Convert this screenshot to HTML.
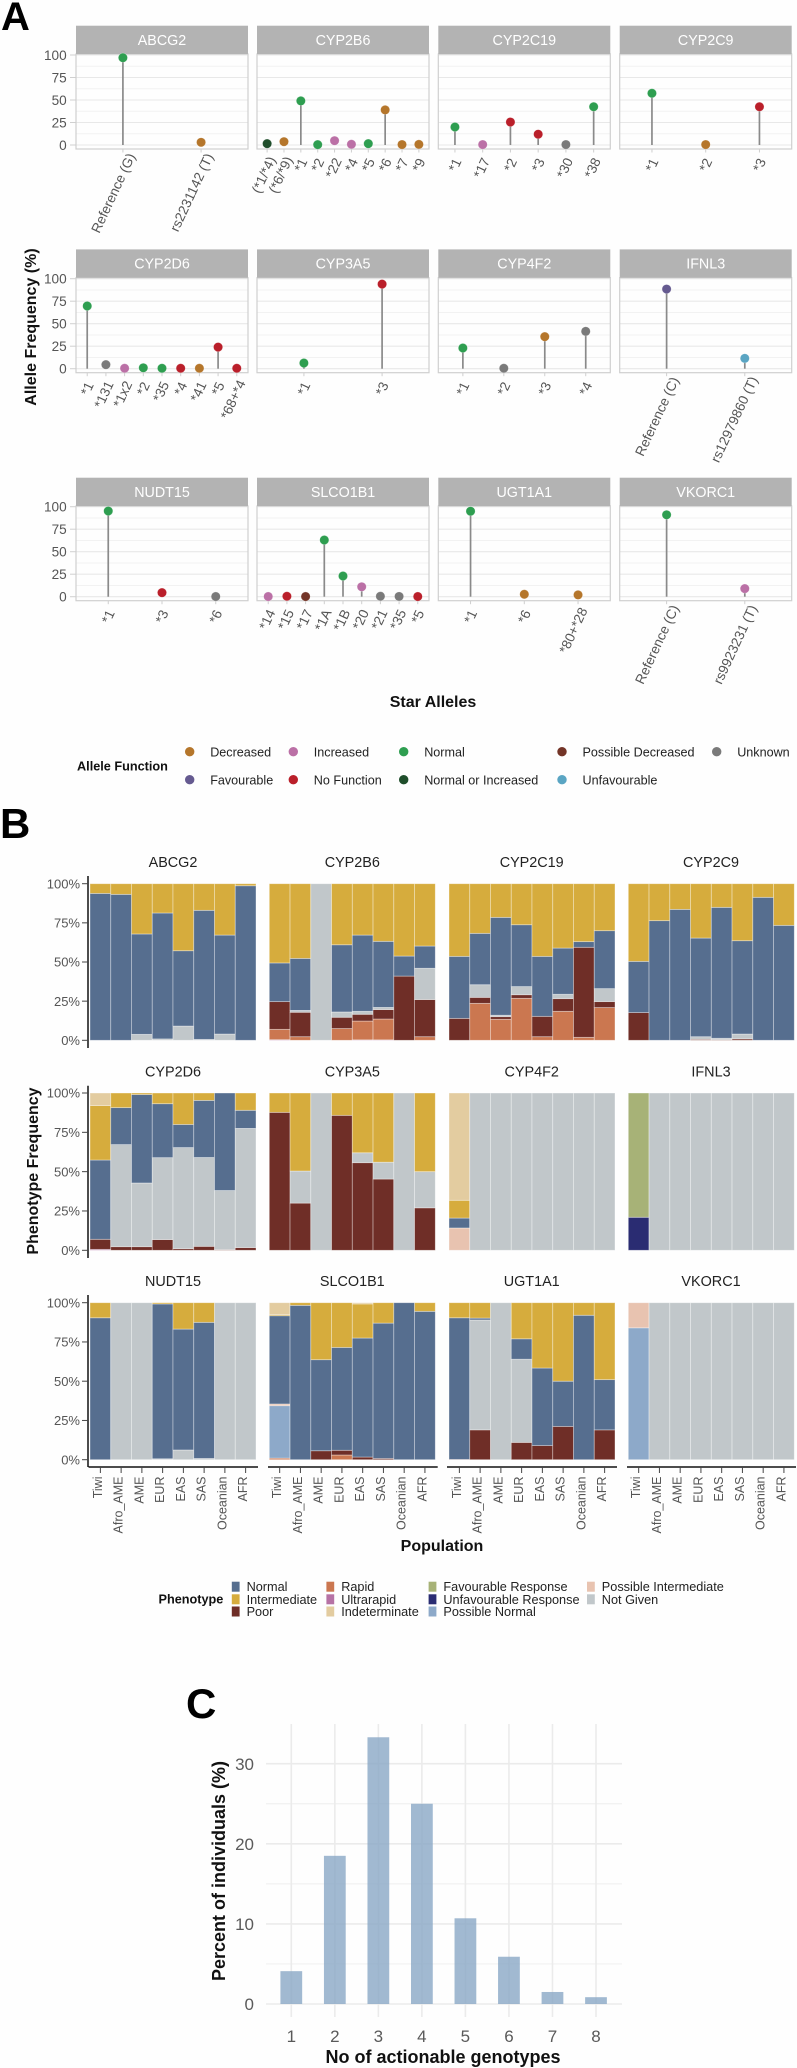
<!DOCTYPE html>
<html lang="en">
<head>
<meta charset="utf-8">
<title>Pharmacogenomic allele and phenotype frequencies</title>
<style>
html,body{margin:0;padding:0;background:#fefefe;}
svg{display:block;font-family:"Liberation Sans",Arial,sans-serif;}
</style>
</head>
<body>
<svg id="fig" xmlns="http://www.w3.org/2000/svg" width="797" height="2068" viewBox="0 0 797 2068">
<rect x="0" y="0" width="797" height="2068" fill="#fefefe"/>
<text x="1" y="30" font-size="40" font-weight="700" fill="#000">A</text>
<text x="0" y="838" font-size="42" font-weight="700" fill="#000">B</text>
<text x="186" y="1718" font-size="42" font-weight="700" fill="#000">C</text>
<text transform="translate(36,327) rotate(-90)" text-anchor="middle" font-size="16" font-weight="700" fill="#111">Allele Frequency (%)</text>
<text x="433" y="707" text-anchor="middle" font-size="16" font-weight="700" fill="#111">Star Alleles</text>
<text x="77" y="770.5" font-size="12.7" font-weight="700" fill="#111">Allele Function</text>
<text transform="translate(38,1171) rotate(-90)" text-anchor="middle" font-size="16" font-weight="700" fill="#111">Phenotype Frequency</text>
<text x="442" y="1551" text-anchor="middle" font-size="16" font-weight="700" fill="#111">Population</text>
<text x="158.5" y="1603.5" font-size="12.7" font-weight="700" fill="#111">Phenotype</text>
<text transform="translate(225,1871) rotate(-90)" text-anchor="middle" font-size="18" font-weight="700" fill="#111">Percent of individuals (%)</text>
<text x="443" y="2063" text-anchor="middle" font-size="18" font-weight="700" fill="#111">No of actionable genotypes</text>
</svg>
<script>
// ---------- Panel A data ----------
const geneNames = ["ABCG2","CYP2B6","CYP2C19","CYP2C9","CYP2D6","CYP3A5","CYP4F2","IFNL3","NUDT15","SLCO1B1","UGT1A1","VKORC1"];
const alleleTicks = [0,25,50,75,100];
const allelesABCG2 = ["Reference (G)","rs2231142 (T)"];
const freqABCG2 = [97,3];
const funcABCG2 = ["N","D"];
const allelesCYP2B6 = ["(*1/*4)","(*6/*9)","*1","*2","*22","*4","*5","*6","*7","*9"];
const freqCYP2B6 = [1.5,3.7,49,0.4,4.8,0.8,1.5,39,0.5,0.7];
const funcCYP2B6 = ["NI","D","N","N","I","I","N","D","D","D"];
const allelesCYP2C19 = ["*1","*17","*2","*3","*30","*38"];
const freqCYP2C19 = [20,0.5,25.5,12,0.5,42.5];
const funcCYP2C19 = ["N","I","X","X","U","N"];
const allelesCYP2C9 = ["*1","*2","*3"];
const freqCYP2C9 = [57.5,0.5,42.5];
const funcCYP2C9 = ["N","D","X"];
const allelesCYP2D6 = ["*1","*131","*1x2","*2","*35","*4","*41","*5","*68+*4"];
const freqCYP2D6 = [69.7,4.5,0.5,1,0.5,0.5,0.5,24,0.5];
const funcCYP2D6 = ["N","U","I","N","N","X","D","X","X"];
const allelesCYP3A5 = ["*1","*3"];
const freqCYP3A5 = [6.3,94];
const funcCYP3A5 = ["N","X"];
const allelesCYP4F2 = ["*1","*2","*3","*4"];
const freqCYP4F2 = [23,0.5,35.6,41.5];
const funcCYP4F2 = ["N","U","D","U"];
const allelesIFNL3 = ["Reference (C)","rs12979860 (T)"];
const freqIFNL3 = [88.5,11.5];
const funcIFNL3 = ["F","B"];
const allelesNUDT15 = ["*1","*3","*6"];
const freqNUDT15 = [95.2,4.5,0.2];
const funcNUDT15 = ["N","X","U"];
const allelesSLCO1B1 = ["*14","*15","*17","*1A","*1B","*20","*21","*35","*5"];
const freqSLCO1B1 = [0.2,0.5,0.2,63,23,11,0.5,0.3,0.2];
const funcSLCO1B1 = ["I","X","P","N","N","I","U","U","X"];
const allelesUGT1A1 = ["*1","*6","*80+*28"];
const freqUGT1A1 = [95,2.7,2];
const funcUGT1A1 = ["N","D","D"];
const allelesVKORC1 = ["Reference (C)","rs9923231 (T)"];
const freqVKORC1 = [91,9];
const funcVKORC1 = ["N","I"];
const allelesAll = [allelesABCG2,allelesCYP2B6,allelesCYP2C19,allelesCYP2C9,allelesCYP2D6,allelesCYP3A5,allelesCYP4F2,allelesIFNL3,allelesNUDT15,allelesSLCO1B1,allelesUGT1A1,allelesVKORC1];
const freqAll = [freqABCG2,freqCYP2B6,freqCYP2C19,freqCYP2C9,freqCYP2D6,freqCYP3A5,freqCYP4F2,freqIFNL3,freqNUDT15,freqSLCO1B1,freqUGT1A1,freqVKORC1];
const funcAll = [funcABCG2,funcCYP2B6,funcCYP2C19,funcCYP2C9,funcCYP2D6,funcCYP3A5,funcCYP4F2,funcIFNL3,funcNUDT15,funcSLCO1B1,funcUGT1A1,funcVKORC1];
const functionCodes = ["D","F","I","X","N","NI","P","B","U"];
const functionLabels = ["Decreased","Favourable","Increased","No Function","Normal","Normal or Increased","Possible Decreased","Unfavourable","Unknown"];
const functionColors = ["#b5762b","#655a90","#bb70a6","#ba1f2a","#2e9e50","#1f4e2b","#733427","#5aa5c3","#7a7a7a"];

// ---------- Panel B data (alternating phenotype code, cumulative upper edge %, bottom to top) ----------
const populations = ["Tiwi","Afro_AME","AME","EUR","EAS","SAS","Oceanian","AFR"];
const phenotypeTicks = ["0%","25%","50%","75%","100%"];
const phenotypeTickValues = [0,25,50,75,100];
const stacksABCG2 = [["N",93.8,"M",100],["N",93.2,"M",100],["G",3.8,"N",67.9,"M",100],["G",0.9,"N",81.3,"M",100],["G",9.1,"N",57.2,"M",100],["G",0.6,"N",83,"M",100],["G",4,"N",67.2,"M",100],["N",98.7,"M",100]];
const stacksCYP2B6 = [["U",0.4,"R",7,"O",24.7,"N",49.4,"M",100],["R",2.3,"O",17.9,"G",19.1,"N",52.3,"M",100],["G",100],["R",7.5,"O",14.7,"G",18.1,"N",61,"M",100],["U",0.3,"R",12.3,"O",16.6,"G",18.5,"N",67.2,"M",100],["U",0.3,"R",13.6,"O",19.6,"G",21,"N",63.2,"M",100],["O",41,"N",53.8,"M",100],["R",2.3,"O",26,"G",46,"N",60.2,"M",100]];
const stacksCYP2C19 = [["O",14,"N",53.6,"M",100],["R",23.6,"O",27.4,"G",35.5,"N",68.3,"M",100],["R",13.4,"O",15.1,"G",16,"N",78.5,"M",100],["R",26.8,"O",29.1,"G",34.3,"N",73.8,"M",100],["R",2.3,"O",15.3,"N",53.6,"M",100],["R",18.5,"O",26.6,"G",29.4,"N",58.9,"M",100],["R",1.9,"O",59.4,"N",63,"M",100],["R",20.9,"O",24.7,"G",33,"N",70,"M",100]];
const stacksCYP2C9 = [["O",17.7,"N",50.4,"M",100],["N",76.4,"M",100],["N",83.6,"M",100],["O",0.6,"G",2.3,"N",65.3,"M",100],["O",0.4,"G",1.3,"N",84.9,"M",100],["O",0.9,"G",4,"N",63.6,"M",100],["N",91.3,"M",100],["N",73.4,"M",100]];
const stacksCYP2D6 = [["U",0.6,"O",7,"N",57.4,"M",92,"T",100],["O",2.3,"G",67.2,"N",90.7,"M",100],["O",2.3,"G",42.8,"N",99,"M",100],["O",6.8,"G",58.9,"N",93.2,"M",100],["O",1,"G",65.3,"N",80,"M",100],["O",2.5,"G",59,"N",95.3,"M",100],["O",0.4,"G",38,"N",100],["O",1.7,"G",77.5,"N",89,"M",100]];
const stacksCYP3A5 = [["O",87.7,"M",100],["O",30,"G",50.4,"M",100],["G",100],["O",85.8,"M",100],["O",55.7,"G",62,"M",100],["O",45.3,"G",56,"M",100],["G",100],["O",27,"G",50,"M",100]];
const stacksCYP4F2 = [["J",14.2,"N",20.5,"M",31.8,"T",100],["G",100],["G",100],["G",100],["G",100],["G",100],["G",100],["G",100]];
const stacksIFNL3 = [["W",21,"V",100],["G",100],["G",100],["G",100],["G",100],["G",100],["G",100],["G",100]];
const stacksNUDT15 = [["N",90.4,"M",100],["G",100],["G",100],["G",0.6,"N",99.2,"M",100],["G",6.2,"N",83.2,"M",100],["G",0.8,"N",87.5,"M",100],["G",100],["G",100]];
const stacksSLCO1B1 = [["R",1,"Q",34.4,"J",35.5,"N",91.7,"M",92.4,"T",100],["N",98.3,"M",100],["O",5.7,"N",63.7,"M",100],["R",3,"O",6,"N",71.5,"M",100],["O",1.7,"N",77.5,"M",99.2,"T",100],["O",0.8,"N",87,"M",100],["N",100],["N",94.5,"M",100]];
const stacksUGT1A1 = [["O",0.2,"N",90.4,"M",100],["O",19,"G",89,"N",90.2,"M",100],["G",100],["O",11,"G",64,"N",77,"M",100],["O",9,"N",58.4,"M",100],["O",21.2,"N",50,"M",100],["N",92,"M",100],["O",19,"N",51,"M",100]];
const stacksVKORC1 = [["Q",84,"J",100],["G",100],["G",100],["G",100],["G",100],["G",100],["G",100],["G",100]];
const stacksAll = [stacksABCG2,stacksCYP2B6,stacksCYP2C19,stacksCYP2C9,stacksCYP2D6,stacksCYP3A5,stacksCYP4F2,stacksIFNL3,stacksNUDT15,stacksSLCO1B1,stacksUGT1A1,stacksVKORC1];
const phenotypeCodes = ["N","M","O","R","U","T","V","W","Q","J","G"];
const phenotypeLabels = ["Normal","Intermediate","Poor","Rapid","Ultrarapid","Indeterminate","Favourable Response","Unfavourable Response","Possible Normal","Possible Intermediate","Not Given"];
const phenotypeColors = ["#566e8f","#d6ac3d","#6f2e27","#cb7750","#b672a5","#e3cca0","#a7b277","#2a2c72","#8da9c9","#e8c3b0","#c1c7ca"];

// ---------- Panel C data ----------
const genotypeCounts = ["1","2","3","4","5","6","7","8"];
const individualPercents = [4.1,18.5,33.3,25,10.7,5.9,1.5,0.85];
const percentTicks = [0,10,20,30];
const percentMinorTicks = [5,15,25];

// ---------- helpers ----------
const SVGNS = "http://www.w3.org/2000/svg";
const fig = document.getElementById("fig");
function mk(tag, attrs, parent, txt) {
  const el = document.createElementNS(SVGNS, tag);
  for (const k in attrs) el.setAttribute(k, attrs[k]);
  if (txt !== undefined) el.textContent = txt;
  (parent || fig).appendChild(el);
  return el;
}

// ---------- Panel A axes ----------
const aLeft = [76, 257, 438.3, 619.7];
const aWidth = 172;
const aStripTop = [25.7, 249.4, 477.7];
const aZeroY = [145, 368.7, 596.7];
function yA(row, v) { return aZeroY[row] - v * 0.9; }
function xA(col, i, n) { return aLeft[col] + (i + 0.6) * aWidth / (n + 0.2); }

geneNames.forEach(function (gene, g) {
  const col = g % 4, row = Math.floor(g / 4);
  const left = aLeft[col], top = aStripTop[row] + 28.3, bottom = aZeroY[row] + 4;
  const panel = mk("g", {});
  
  
  for (let v = 12.5; v < 100; v += 25) {
    const minor = mk("line", {x1: left, x2: left + aWidth, y1: yA(row, v), y2: yA(row, v), stroke: "#f2f2f2", "stroke-width": 1}, panel);
    
    
  }
  alleleTicks.forEach(function (t) {
    const major = mk("line", {x1: left, x2: left + aWidth, y1: yA(row, t), y2: yA(row, t), stroke: "#e8e8e8", "stroke-width": 1.1}, panel);
    
    
    if (col === 0) {
      const tk = mk("line", {x1: left - 6, x2: left, y1: yA(row, t), y2: yA(row, t), stroke: "#d0d0d0", "stroke-width": 1}, panel);
      
      
      const lab = mk("text", {x: 66.7, y: yA(row, t) + 5, "text-anchor": "end", "font-size": 13.6, fill: "#555"}, panel, String(t));
      
      
    }
  });
  const border = mk("rect", {x: left, y: top, width: aWidth, height: bottom - top, fill: "none", stroke: "#cfcfcf", "stroke-width": 1.2}, panel);
  
  
  const strip = mk("rect", {x: left, y: aStripTop[row], width: aWidth, height: 28.3, fill: "#b3b3b3"}, panel);
  
  
  const stripText = mk("text", {x: left + aWidth / 2, y: aStripTop[row] + 19.3, "text-anchor": "middle", "font-size": 14.3, fill: "#fff"}, panel, gene);
  
  
  const names = allelesAll[g], vals = freqAll[g], funcs = funcAll[g], n = names.length;
  names.forEach(function (a, i) {
    const x = xA(col, i, n);
    const tk = mk("line", {x1: x, x2: x, y1: bottom, y2: bottom + 3.5, stroke: "#cfcfcf", "stroke-width": 1}, panel);
    
    
    const stem = mk("line", {x1: x, x2: x, y1: yA(row, 0), y2: yA(row, vals[i]), stroke: "#8a8a8a", "stroke-width": 1.7}, panel);
    
    
    const dot = mk("circle", {cx: x, cy: yA(row, vals[i]), r: 4.6, fill: functionColors[functionCodes.indexOf(funcs[i])], stroke: "rgba(255,255,255,.35)", "stroke-width": 0.6}, panel);
    
    
    const lab = mk("text", {"text-anchor": "end", "font-size": 13.6, fill: "#555", dy: ".35em"}, panel, a);
    
    
    const len = lab.getComputedTextLength();
    lab.setAttribute("transform", "translate(" + (x + 1.5 + 0.08 * len) + "," + (bottom + 11 - 0.07 * len) + ") rotate(-65)");
  });
});

// ---------- Panel A legend ----------
const legendADotX = [189.7, 189.7, 293.3, 293.3, 403.7, 403.7, 562, 562, 716.7];
const legendARowY = [751.7, 779.7];
functionLabels.forEach(function (label, i) {
  const y = legendARowY[i % 2];
  const entry = mk("g", {});
  
  
  const dot = mk("circle", {cx: legendADotX[i], cy: y, r: 4.7, fill: functionColors[i]}, entry);
  
  
  const t = mk("text", {x: legendADotX[i] + 20.5, y: y + 4.6, "font-size": 12.6, fill: "#222"}, entry, label);
  
  
});

// ---------- Panel B axes ----------
const bLeft = [90, 269.3, 449, 628.3];
const bAxisLeft = [88.5, 268, 447, 627];
const bAxisRight = [258, 437.7, 617, 796];
const bBarStep = 20.75;
const bZeroY = [1040.3, 1250.3, 1459.7];
const bTopY = [883.7, 1093, 1302.7];
const bAxisTop = [876, 1085.7, 1295];
const bAxisBottom = [1048, 1258, 1467];
const bTitleY = [867, 1076.7, 1286];
const bTitleX = [173, 352.3, 531.7, 711];
function yB(row, v) { return bZeroY[row] - v * (bZeroY[row] - bTopY[row]) / 100; }
function xB(col, i) { return bLeft[col] + i * bBarStep; }

geneNames.forEach(function (gene, g) {
  const col = g % 4, row = Math.floor(g / 4);
  const panel = mk("g", {});
  
  
  const title = mk("text", {x: bTitleX[col], y: bTitleY[row], "text-anchor": "middle", "font-size": 14.4, fill: "#222"}, panel, gene);
  
  
  stacksAll[g].forEach(function (stack, p) {
    let prev = 0;
    for (let s = 0; s < stack.length; s += 2) {
      const code = stack[s], upper = stack[s + 1];
      const seg = mk("rect", {x: xB(col, p), y: yB(row, upper), width: bBarStep, height: yB(row, prev) - yB(row, upper), fill: phenotypeColors[phenotypeCodes.indexOf(code)], stroke: "rgba(255,255,255,.45)", "stroke-width": 0.8}, panel);
      
      
      prev = upper;
    }
  });
  if (col === 0) {
    const axis = mk("line", {x1: 88, x2: 88, y1: bAxisTop[row], y2: bAxisBottom[row], stroke: "#111", "stroke-width": 1.5}, panel);
    
    
    phenotypeTickValues.forEach(function (t, k) {
      const tk = mk("line", {x1: 82, x2: 88, y1: yB(row, t), y2: yB(row, t), stroke: "#444", "stroke-width": 1}, panel);
      
      
      const lab = mk("text", {x: 80, y: yB(row, t) + 4.6, "text-anchor": "end", "font-size": 13, fill: "#555"}, panel, phenotypeTicks[k]);
      
      
    });
  }
  if (row === 2) {
    const axis = mk("line", {x1: bAxisLeft[col], x2: bAxisRight[col], y1: 1467, y2: 1467, stroke: "#111", "stroke-width": 1.6}, panel);
    
    
    populations.forEach(function (pop, p) {
      const x = xB(col, p) + bBarStep / 2;
      const tk = mk("line", {x1: x, x2: x, y1: 1467, y2: 1473, stroke: "#444", "stroke-width": 1}, panel);
      
      
      const lab = mk("text", {transform: "translate(" + (x + 1.5) + ",1476.5) rotate(-90)", "text-anchor": "end", "font-size": 12.5, fill: "#555"}, panel, pop);
      
      
    });
  }
});

// ---------- Panel B legend ----------
const legendBSwatchX = [231.8, 231.8, 231.8, 326.4, 326.4, 326.4, 428.6, 428.6, 428.6, 587, 587];
const legendBRowY = [1586.7, 1599.3, 1611.5];
phenotypeLabels.forEach(function (label, i) {
  const y = legendBRowY[i < 9 ? i % 3 : i - 9];
  const entry = mk("g", {});
  
  
  const sw = mk("rect", {x: legendBSwatchX[i], y: y - 5, width: 7.8, height: 10, fill: phenotypeColors[i]}, entry);
  
  
  const t = mk("text", {x: legendBSwatchX[i] + 14.8, y: y + 4.5, "font-size": 12.7, fill: "#222"}, entry, label);
  
  
});

// ---------- Panel C axes ----------
const cLeft = 266, cRight = 622, cTop = 1724, cBottom = 2017;
const cStep = (596 - 291.3) / 7;
function xC(i) { return 291.3 + i * cStep; }
function yC(v) { return 2004 - v * 8.01; }

percentMinorTicks.forEach(function (t) {
  const gl = mk("line", {x1: cLeft, x2: cRight, y1: yC(t), y2: yC(t), stroke: "#f1f1f1", "stroke-width": 1.2});
  
  
});
percentTicks.forEach(function (t) {
  const gl = mk("line", {x1: cLeft, x2: cRight, y1: yC(t), y2: yC(t), stroke: "#ebebeb", "stroke-width": 1.6});
  
  
  const lab = mk("text", {x: 254, y: yC(t) + 6.2, "text-anchor": "end", "font-size": 17, fill: "#5a5a5a"}, undefined, String(t));
  
  
});
genotypeCounts.forEach(function (c, i) {
  const gl = mk("line", {x1: xC(i), x2: xC(i), y1: cTop, y2: cBottom, stroke: "#ebebeb", "stroke-width": 1.6});
  
  
  const lab = mk("text", {x: xC(i), y: 2041.8, "text-anchor": "middle", "font-size": 17, fill: "#5a5a5a"}, undefined, c);
  
  
});
individualPercents.forEach(function (v, i) {
  const bar = mk("rect", {x: xC(i) - cStep / 4, y: yC(v), width: cStep / 2, height: yC(0) - yC(v), fill: "#8aa8c6", "fill-opacity": 0.8});
  
  
});
</script>
</body>
</html>
